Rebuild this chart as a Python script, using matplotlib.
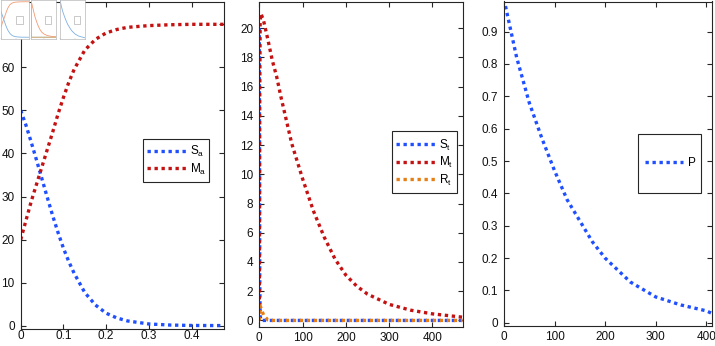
import matplotlib.pyplot as plt
from matplotlib.patches import Rectangle

plt.rcParams["font.family"] = ["Liberation Sans", "DejaVu Sans"]
plt.rcParams["font.size"] = 8.5
plt.rcParams["mathtext.fontset"] = "custom"
plt.rcParams["mathtext.rm"] = "Liberation Sans"
plt.rcParams["mathtext.it"] = "Liberation Sans"
plt.rcParams["mathtext.default"] = "regular"

# Panel 1: S_a / M_a
x_a = [0, 0.0125, 0.025, 0.0375, 0.05, 0.0625, 0.075, 0.0875, 0.1, 0.1125, 0.125,
       0.15, 0.175, 0.2, 0.225, 0.25, 0.3, 0.35, 0.4, 0.476]
S_a = [50, 46.5, 42.5, 38.3, 34, 29.7, 25.5, 21.6, 18, 14.9, 12.2,
       7.7, 4.8, 2.9, 1.8, 1.1, 0.4, 0.15, 0.05, 0.02]
M_a = [20, 24.5, 29, 33, 37, 41, 45, 49.2, 53, 56.5, 59.5,
       64, 66.5, 68, 68.8, 69.3, 69.7, 69.9, 70, 70]

# Panel 2: S_t / M_t / R_t
t_t = [0, 1, 2, 4, 10, 20, 30, 40, 50, 75, 100, 125, 150, 175, 200, 225, 250,
       300, 350, 400, 470]
S_t = [20, 3, 0.3, 0, 0, 0, 0, 0, 0, 0, 0, 0, 0, 0, 0, 0, 0, 0, 0, 0, 0]
M_t = [0, 15, 20.5, 21, 20.5, 19.2, 17.8, 16.7, 15.3, 12.1, 9.7, 7.5, 5.7, 4.2,
       3.1, 2.35, 1.8, 1.1, 0.7, 0.45, 0.22]
R_t = [0, 0.9, 1.0, 0.85, 0.35, 0.03, 0, 0, 0, 0, 0, 0, 0, 0, 0, 0, 0, 0, 0, 0, 0]

# Panel 3: P
t_p = [0, 25, 50, 75, 100, 125, 150, 175, 200, 250, 300, 350, 400, 410]
P = [1.0, 0.82, 0.68, 0.57, 0.47, 0.38, 0.315, 0.25, 0.2, 0.126, 0.08, 0.055,
     0.037, 0.03]

BLUE = "#1f4fff"
RED = "#c41212"
ORANGE = "#e67e16"
EDGE = "#262626"
DOTS = (0, (1, 1.1))
W, H = 715, 346


def px_axes(fig, left, top, right, bottom):
    # axes rectangle given in image pixels
    return fig.add_axes([left / W, 1 - bottom / H, (right - left) / W, (bottom - top) / H])


def style(ax, xpad):
    for s in ax.spines.values():
        s.set_color(EDGE)
        s.set_linewidth(0.8)
    ax.tick_params(direction="in", length=3.5, width=0.8, top=True, right=True,
                   color=EDGE, labelsize=8.5, labelcolor="#111111")
    ax.tick_params(axis="x", pad=xpad)
    ax.tick_params(axis="y", pad=4.3)


def add_legend(ax, hx, cy, box):
    ax.legend(loc="center left", bbox_to_anchor=(hx, cy), borderpad=0, borderaxespad=0,
              frameon=False, handlelength=3.25, handletextpad=0.35, labelspacing=0.2,
              fontsize=8.5)
    ax.add_patch(Rectangle((box[0], box[1]), box[2] - box[0], box[3] - box[1],
                           transform=ax.transAxes, fill=False, lw=0.8, ec=EDGE, zorder=5))


fig = plt.figure(figsize=(W / 100, H / 100), dpi=100)

ax1 = px_axes(fig, 20.7, 1.5, 224, 329)
ax1.plot(x_a, S_a, ls=DOTS, lw=2.4, color=BLUE, label=r"S$_a$")
ax1.plot(x_a, M_a, ls=DOTS, lw=2.4, color=RED, label=r"M$_a$")
ax1.set_xlim(0, 0.476)
ax1.set_ylim(-0.77, 75.3)
ax1.set_xticks([0, 0.1, 0.2, 0.3, 0.4])
ax1.set_xticklabels(["0", "0.1", "0.2", "0.3", "0.4"])
ax1.set_yticks(range(0, 80, 10))
style(ax1, 1.0)
add_legend(ax1, 0.623, 0.515, (0.603, 0.450, 0.926, 0.579))

ax2 = px_axes(fig, 259.3, 1.5, 462.7, 327)
ax2.plot(t_t, S_t, ls=DOTS, lw=2.4, color=BLUE, label=r"S$_t$")
ax2.plot(t_t, M_t, ls=DOTS, lw=2.4, color=RED, label=r"M$_t$")
ax2.plot(t_t, R_t, ls=DOTS, lw=2.4, color=ORANGE, label=r"R$_t$")
ax2.set_xlim(0, 470)
ax2.set_ylim(-0.45, 21.83)
ax2.set_xticks(range(0, 500, 100))
ax2.set_yticks(range(0, 22, 2))
style(ax2, 3.8)
add_legend(ax2, 0.673, 0.505, (0.654, 0.413, 0.970, 0.603))

ax3 = px_axes(fig, 504, 1.5, 711.7, 326)
ax3.plot(t_p, P, ls=DOTS, lw=2.4, color=BLUE, label="P")
ax3.set_xlim(0, 411)
ax3.set_ylim(-0.01, 0.993)
ax3.set_xticks(range(0, 500, 100))
ax3.set_yticks([i / 10 for i in range(10)])
ax3.set_yticklabels(["0"] + ["0.%d" % i for i in range(1, 10)])
style(ax3, 3.8)
add_legend(ax3, 0.679, 0.501, (0.646, 0.409, 0.947, 0.591))

# small thumbnail strip in the top-left corner
LBLUE = "#7fb0e0"
LORANGE = "#f29a72"
thumbs = [(1, 29), (31, 56), (60, 85)]
minis = [px_axes(fig, l, 0, r, 39) for l, r in thumbs]
minis[0].plot(x_a, S_a, lw=0.6, color=LBLUE)
minis[0].plot(x_a, M_a, lw=0.6, color=LORANGE)
minis[0].set_xlim(0, 0.476)
minis[1].plot(t_t, S_t, lw=0.6, color=LBLUE)
minis[1].plot(t_t, M_t, lw=0.6, color=LORANGE)
minis[1].plot(t_t, R_t, lw=0.6, color="#e8b060")
minis[1].set_xlim(0, 470)
minis[2].plot(t_p, P, lw=0.6, color=LBLUE)
minis[2].set_xlim(0, 411)
minis[2].set_ylim(0, 1.0)
for m in minis:
    m.set_zorder(10)
    m.set_facecolor("white")
    for s in m.spines.values():
        s.set_color("#b8b8b8")
        s.set_linewidth(0.5)
    m.tick_params(direction="in", length=1, width=0.3, color="#b8b8b8",
                  labelleft=False, labelbottom=False)
    m.add_patch(Rectangle((0.55, 0.38), 0.25, 0.2, transform=m.transAxes,
                          fill=False, lw=0.4, ec="#a0a0a0"))

fig.savefig("out.png", dpi=100, facecolor="white")
